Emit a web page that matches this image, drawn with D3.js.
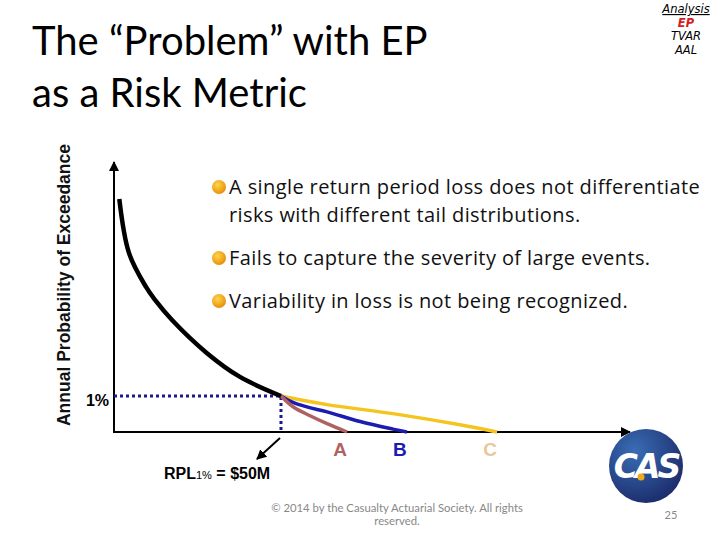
<!DOCTYPE html>
<html>
<head>
<meta charset="utf-8">
<script src="https://cdn.jsdelivr.net/npm/d3@7"></script>
<style>
  body { margin: 0; background: #fff; }
  svg { display: block; }
</style>
</head>
<body>
<script>
// loss in $M, probability in %
const baseCurve = [[1.59, 6.47], [4.49, 4.97], [9.58, 4.03], [12.28, 3.67], [17.37, 3.11], [27.84, 2.19], [37.72, 1.53], [50, 1.0]]
const tailA = [[50, 1.0], [53.6, 0.7], [58.7, 0.45], [63.8, 0.23], [69.8, 0]]
const tailB = [[50, 1.0], [53.6, 0.82], [58, 0.69], [63.8, 0.56], [73.7, 0.29], [83.5, 0.08], [87.7, 0]]
const tailC = [[50, 1.0], [63.8, 0.76], [83.5, 0.51], [103.6, 0.2], [114.7, 0]]
const tailLabels = ["A", "B", "C"]
const rpl = { loss: 50, prob: 1 }
const bullets = [
  ["A single return period loss does not differentiate", "risks with different tail distributions."],
  ["Fails to capture the severity of large events."],
  ["Variability in loss is not being recognized."]
]
const menu = ["Analysis", "EP", "TVAR", "AAL"]

const width = 720, height = 540
const svg = d3.select("body").append("svg")
  .attr("width", width)
  .attr("height", height)

const x = d3.scaleLinear().domain([0, 154.5]).range([114, 630])
const y = d3.scaleLinear().domain([0, 7.5]).range([432, 162])

const defs = svg.append("defs")
const mk = defs.append("marker")
  .attr("id", "arrow")
  .attr("viewBox", "0 0 10 10")
  .attr("refX", 9).attr("refY", 5)
  .attr("markerWidth", 5).attr("markerHeight", 5)
  .attr("orient", "auto-start-reverse")
mk.append("path").attr("d", "M0,0 L10,5 L0,10 z").attr("fill", "#000")

const grad = defs.append("radialGradient").attr("id", "logoGrad")
  .attr("cx", "35%").attr("cy", "30%").attr("r", "75%")
grad.append("stop").attr("offset", "0%").attr("stop-color", "#3a6db5")
grad.append("stop").attr("offset", "100%").attr("stop-color", "#1b2c6b")
const bgrad = defs.append("radialGradient").attr("id", "bulletGrad")
  .attr("cx", "40%").attr("cy", "35%").attr("r", "65%")
bgrad.append("stop").attr("offset", "0%").attr("stop-color", "#ffd54a")
bgrad.append("stop").attr("offset", "100%").attr("stop-color", "#e8900a")

// title
svg.append("text")
  .attr("font-family", "Lato, 'Open Sans', sans-serif")
  .attr("font-size", 40)
  .attr("fill", "#000")
  .selectAll("tspan")
  .data(["The \u201cProblem\u201d with EP", "as a Risk Metric"])
  .join("tspan")
    .attr("x", 32)
    .attr("y", (d, i) => 55 + i * 52)
    .text(d => d)

// top-right menu
svg.append("g")
  .attr("font-family", "'DejaVu Sans', sans-serif")
  .attr("font-size", 11.5)
  .attr("font-style", "italic")
  .attr("text-anchor", "middle")
  .selectAll("text")
  .data(menu)
  .join("text")
    .attr("x", 686)
    .attr("y", (d, i) => 13 + i * 13.5)
    .attr("fill", (d, i) => i === 1 ? "#d42020" : "#000")
    .attr("font-weight", (d, i) => i === 1 ? "bold" : "normal")
    .attr("text-decoration", (d, i) => i === 0 ? "underline" : null)
    .text(d => d)

// axes
svg.append("line")
  .attr("x1", x(0)).attr("y1", y(0) + 1)
  .attr("x2", x(0)).attr("y2", y(7.5))
  .attr("stroke", "#000").attr("stroke-width", 2)
  .attr("marker-end", "url(#arrow)")
svg.append("line")
  .attr("x1", x(0) - 1).attr("y1", y(0))
  .attr("x2", x(154.5)).attr("y2", y(0))
  .attr("stroke", "#000").attr("stroke-width", 2)
  .attr("marker-end", "url(#arrow)")

svg.append("text")
  .attr("transform", `translate(70, 285) rotate(-90)`)
  .attr("text-anchor", "middle")
  .attr("font-family", "'Liberation Sans', Arial, sans-serif")
  .attr("font-weight", "bold")
  .attr("font-size", 17.5)
  .attr("fill", "#111")
  .text("Annual Probability of Exceedance")

// dotted guides
svg.append("path")
  .attr("d", `M${x(0)},${y(rpl.prob)} H${x(rpl.loss)} V${y(0)}`)
  .attr("fill", "none")
  .attr("stroke", "#1a1a8c")
  .attr("stroke-width", 3)
  .attr("stroke-dasharray", "3,3")

svg.append("text")
  .attr("x", 109).attr("y", 406)
  .attr("text-anchor", "end")
  .attr("font-family", "'Liberation Sans', Arial, sans-serif")
  .attr("font-weight", "bold")
  .attr("font-size", 16)
  .text("1%")

const line = d3.line()
  .x(d => x(d[0]))
  .y(d => y(d[1]))
  .curve(d3.curveCatmullRom.alpha(0.5))

const tails = [
  { data: tailA, color: "#b06262", label: "#b06262" },
  { data: tailB, color: "#1c1cb0", label: "#1c1cb0" },
  { data: tailC, color: "#f4c51e", label: "#e8c79c" }
]

svg.append("g").selectAll("path")
  .data(tails.slice().reverse())
  .join("path")
    .attr("d", d => line(d.data))
    .attr("fill", "none")
    .attr("stroke", d => d.color)
    .attr("stroke-width", 3.5)

svg.append("path")
  .attr("d", line(baseCurve))
  .attr("fill", "none")
  .attr("stroke", "#000")
  .attr("stroke-width", 4.5)

svg.append("g")
  .attr("font-family", "'Liberation Sans', Arial, sans-serif")
  .attr("font-weight", "bold")
  .attr("font-size", 19)
  .attr("text-anchor", "middle")
  .selectAll("text")
  .data(tails)
  .join("text")
    .attr("x", d => x(d.data[d.data.length - 1][0]) - 7)
    .attr("y", 456)
    .attr("fill", d => d.label)
    .text((d, i) => tailLabels[i])

// RPL arrow and label
svg.append("line")
  .attr("x1", x(rpl.loss) - 1).attr("y1", 438)
  .attr("x2", x(rpl.loss) - 24).attr("y2", 459)
  .attr("stroke", "#000").attr("stroke-width", 2)
  .attr("marker-end", "url(#arrow)")

const rplText = svg.append("text")
  .attr("x", 164).attr("y", 479)
  .attr("font-family", "'Liberation Sans', Arial, sans-serif")
  .attr("font-weight", "bold")
  .attr("font-size", 16)
rplText.append("tspan").text("RPL")
rplText.append("tspan").attr("font-size", 11).attr("font-weight", "normal").text("1%")
rplText.append("tspan").text(" = $50M")

// bullets
const bl = svg.append("g")
  .attr("font-family", "'Open Sans', Lato, sans-serif")
  .attr("font-size", 20)
  .attr("letter-spacing", 0.4)
  .attr("fill", "#111")
const bulletY = [194, 265, 308]
bullets.forEach((lines, i) => {
  bl.append("circle")
    .attr("cx", 219).attr("cy", bulletY[i] - 7)
    .attr("r", 7)
    .attr("fill", "url(#bulletGrad)")
  lines.forEach((t, j) => {
    bl.append("text")
      .attr("x", 229)
      .attr("y", bulletY[i] + j * 28)
      .text(t)
  })
})

// logo
const logo = svg.append("g").attr("transform", "translate(646, 466)")
logo.append("circle").attr("r", 37).attr("fill", "url(#logoGrad)")
logo.append("text")
  .attr("text-anchor", "middle")
  .attr("y", 12)
  .attr("font-family", "'DejaVu Sans', sans-serif")
  .attr("font-weight", "bold")
  .attr("font-style", "italic")
  .attr("font-size", 33)
  .attr("letter-spacing", -3)
  .attr("fill", "#fff")
  .text("CAS")
logo.append("circle").attr("cx", -5).attr("cy", 11).attr("r", 3.5).attr("fill", "#f2a81c")

// footer
svg.append("g")
  .attr("font-family", "Lato, 'Open Sans', sans-serif")
  .attr("font-size", 11.3)
  .attr("fill", "#888")
  .attr("text-anchor", "middle")
  .selectAll("text")
  .data(["\u00a9 2014 by the Casualty Actuarial Society. All rights", "reserved."])
  .join("text")
    .attr("x", 397)
    .attr("y", (d, i) => 512 + i * 13)
    .text(d => d)

svg.append("text")
  .attr("x", 671).attr("y", 519)
  .attr("text-anchor", "middle")
  .attr("font-family", "Lato, 'Open Sans', sans-serif")
  .attr("font-size", 11)
  .attr("fill", "#888")
  .text("25")
</script>
</body>
</html>
